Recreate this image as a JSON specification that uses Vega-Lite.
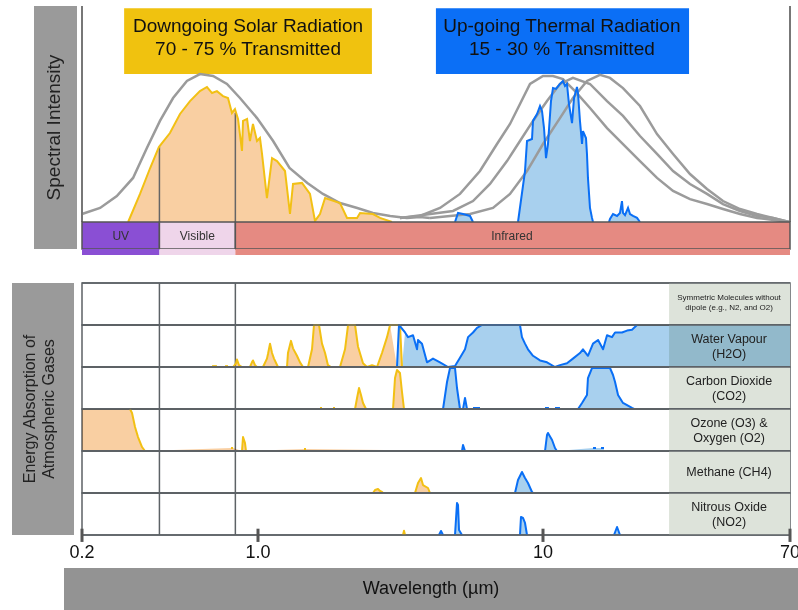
{
"$schema": "https://vega.github.io/schema/vega-lite/v6.json",
"padding": {"left": 12, "top": 5, "right": 0, "bottom": 0},
"background": "white",
"config": {"view": {"stroke": null}, "font": "Liberation Sans"},
"spacing": 0,
"datasets": {
"bb": [
{"q":"sun","x":0.2,"v":0.037},{"q":"sun","x":0.236,"v":0.065},{"q":"sun","x":0.275,"v":0.12},{"q":"sun","x":0.319,"v":0.204},{"q":"sun","x":0.362,"v":0.343},{"q":"sun","x":0.408,"v":0.468},{"q":"sun","x":0.46,"v":0.574},{"q":"sun","x":0.522,"v":0.653},{"q":"sun","x":0.588,"v":0.685},{"q":"sun","x":0.663,"v":0.676},{"q":"sun","x":0.753,"v":0.639},{"q":"sun","x":0.848,"v":0.574},{"q":"sun","x":0.991,"v":0.481},{"q":"sun","x":1.13,"v":0.375},{"q":"sun","x":1.29,"v":0.25},{"q":"sun","x":1.49,"v":0.181},{"q":"sun","x":1.69,"v":0.13},{"q":"sun","x":1.94,"v":0.088},{"q":"sun","x":2.23,"v":0.065},{"q":"sun","x":2.53,"v":0.042},{"q":"sun","x":2.91,"v":0.028},{"q":"sun","x":3.33,"v":0.019},{"q":"sun","x":3.7,"v":0.023},{"q":"sun","x":4.01,"v":0.019},
{"q":"T1","x":3.149,"v":0.019},{"q":"T1","x":3.702,"v":0.028},{"q":"T1","x":4.351,"v":0.065},{"q":"T1","x":5.114,"v":0.13},{"q":"T1","x":6.01,"v":0.236},{"q":"T1","x":6.896,"v":0.361},{"q":"T1","x":7.66,"v":0.454},{"q":"T1","x":8.303,"v":0.546},{"q":"T1","x":9.004,"v":0.639},{"q":"T1","x":10,"v":0.676},{"q":"T1","x":10.82,"v":0.676},{"q":"T1","x":11.7,"v":0.662},{"q":"T1","x":12.87,"v":0.606},{"q":"T1","x":14.48,"v":0.528},{"q":"T1","x":16.56,"v":0.435},{"q":"T1","x":18.78,"v":0.361},{"q":"T1","x":21.47,"v":0.282},{"q":"T1","x":24.55,"v":0.204},{"q":"T1","x":27.86,"v":0.144},{"q":"T1","x":31.84,"v":0.106},{"q":"T1","x":36.4,"v":0.083},{"q":"T1","x":41.29,"v":0.06},{"q":"T1","x":47.21,"v":0.037},{"q":"T1","x":53.97,"v":0.019},{"q":"T1","x":69.5,"v":0},
{"q":"T2","x":3.149,"v":0.019},{"q":"T2","x":4.833,"v":0.051},{"q":"T2","x":5.681,"v":0.097},{"q":"T2","x":6.516,"v":0.176},{"q":"T2","x":7.476,"v":0.282},{"q":"T2","x":8.303,"v":0.375},{"q":"T2","x":9.224,"v":0.468},{"q":"T2","x":10.32,"v":0.56},{"q":"T2","x":11.43,"v":0.639},{"q":"T2","x":12.66,"v":0.667},{"q":"T2","x":14.48,"v":0.639},{"q":"T2","x":16.56,"v":0.56},{"q":"T2","x":18.78,"v":0.491},{"q":"T2","x":21.47,"v":0.398},{"q":"T2","x":24.55,"v":0.315},{"q":"T2","x":27.86,"v":0.236},{"q":"T2","x":31.84,"v":0.176},{"q":"T2","x":36.4,"v":0.13},{"q":"T2","x":41.29,"v":0.083},{"q":"T2","x":47.21,"v":0.051},{"q":"T2","x":53.97,"v":0.028},{"q":"T2","x":61.23,"v":0.019},{"q":"T2","x":69.5,"v":0},
{"q":"T3","x":4.013,"v":0.019},{"q":"T3","x":5.545,"v":0.037},{"q":"T3","x":6.676,"v":0.065},{"q":"T3","x":7.66,"v":0.13},{"q":"T3","x":8.788,"v":0.236},{"q":"T3","x":10,"v":0.361},{"q":"T3","x":11.43,"v":0.481},{"q":"T3","x":12.66,"v":0.574},{"q":"T3","x":14.14,"v":0.653},{"q":"T3","x":15.67,"v":0.681},{"q":"T3","x":16.95,"v":0.667},{"q":"T3","x":18.78,"v":0.62},{"q":"T3","x":21.47,"v":0.537},{"q":"T3","x":24.55,"v":0.407},{"q":"T3","x":27.86,"v":0.315},{"q":"T3","x":31.84,"v":0.222},{"q":"T3","x":36.4,"v":0.153},{"q":"T3","x":41.29,"v":0.097},{"q":"T3","x":47.21,"v":0.06},{"q":"T3","x":53.97,"v":0.037},{"q":"T3","x":61.23,"v":0.019},{"q":"T3","x":69.5,"v":0}
],
"sol": [
{"x":0.305,"v":0},{"x":0.34,"v":0.13},{"x":0.373,"v":0.25},{"x":0.404,"v":0.347},{"x":0.447,"v":0.412},{"x":0.49,"v":0.5},{"x":0.537,"v":0.56},{"x":0.588,"v":0.606},{"x":0.627,"v":0.625},{"x":0.657,"v":0.597},{"x":0.687,"v":0.606},{"x":0.726,"v":0.583},{"x":0.76,"v":0.574},{"x":0.788,"v":0.505},{"x":0.81,"v":0.523},{"x":0.833,"v":0.477},{"x":0.864,"v":0.329},{"x":0.872,"v":0.468},{"x":0.905,"v":0.477},{"x":0.929,"v":0.375},{"x":0.955,"v":0.454},{"x":0.991,"v":0.375},{"x":1.016,"v":0.389},{"x":1.033,"v":0.315},{"x":1.075,"v":0.111},{"x":1.12,"v":0.296},{"x":1.166,"v":0.282},{"x":1.244,"v":0.236},{"x":1.295,"v":0.037},{"x":1.327,"v":0.176},{"x":1.427,"v":0.181},{"x":1.522,"v":0.13},{"x":1.585,"v":0.005},{"x":1.65,"v":0.037},{"x":1.719,"v":0.111},{"x":1.94,"v":0.088},{"x":2.053,"v":0.019},{"x":2.226,"v":0.019},{"x":2.28,"v":0.042},{"x":2.532,"v":0.037},{"x":2.68,"v":0.019},{"x":2.953,"v":0}
],
"th": [
{"q":"a","x":4.912,"v":0},{"q":"a","x":5.033,"v":0.042},{"q":"a","x":5.241,"v":0.037},{"q":"a","x":5.545,"v":0.028},{"q":"a","x":5.681,"v":0},
{"q":"b","x":8.171,"v":0},{"q":"b","x":8.647,"v":0.236},{"q":"b","x":8.788,"v":0.375},{"q":"b","x":9.15,"v":0.384},{"q":"b","x":9.224,"v":0.468},{"q":"b","x":9.528,"v":0.5},{"q":"b","x":9.761,"v":0.537},{"q":"b","x":9.92,"v":0.514},{"q":"b","x":10.08,"v":0.435},{"q":"b","x":10.24,"v":0.296},{"q":"b","x":10.4,"v":0.361},{"q":"b","x":10.65,"v":0.56},{"q":"b","x":10.82,"v":0.62},{"q":"b","x":11.08,"v":0.616},{"q":"b","x":11.43,"v":0.639},{"q":"b","x":11.7,"v":0.653},{"q":"b","x":11.89,"v":0.63},{"q":"b","x":12.08,"v":0.639},{"q":"b","x":12.27,"v":0.546},{"q":"b","x":12.57,"v":0.458},{"q":"b","x":12.77,"v":0.574},{"q":"b","x":13.07,"v":0.625},{"q":"b","x":13.18,"v":0.593},{"q":"b","x":13.38,"v":0.468},{"q":"b","x":13.6,"v":0.361},{"q":"b","x":13.7,"v":0.421},{"q":"b","x":14.03,"v":0.389},{"q":"b","x":14.14,"v":0.315},{"q":"b","x":14.25,"v":0.204},{"q":"b","x":14.48,"v":0.065},{"q":"b","x":14.71,"v":0.019},{"q":"b","x":14.83,"v":0},
{"q":"c","x":16.82,"v":0},{"q":"c","x":16.95,"v":0.014},{"q":"c","x":17.36,"v":0.037},{"q":"c","x":17.92,"v":0.028},{"q":"c","x":18.34,"v":0.042},{"q":"c","x":18.63,"v":0.097},{"q":"c","x":18.78,"v":0.042},{"q":"c","x":19.08,"v":0.032},{"q":"c","x":19.54,"v":0.065},{"q":"c","x":19.85,"v":0.037},{"q":"c","x":20.32,"v":0.028},{"q":"c","x":20.97,"v":0.019},{"q":"c","x":21.47,"v":0}
],
"bands": [
{"b":"UV","x1":0.2,"x2":0.406,"xc":0.285},
{"b":"Visible","x1":0.406,"x2":0.813,"xc":0.5745},
{"b":"Infrared","x1":0.813,"x2":70,"xc":7.78}
],
"rows": [
{"g":"SYM","t":"Symmetric Molecules without\ndipole (e.g., N2, and O2)","n":2},
{"g":"H2O","t":"Water Vapour\n(H2O)","n":2},
{"g":"CO2","t":"Carbon Dioxide\n(CO2)","n":2},
{"g":"O3","t":"Ozone (O3) &\nOxygen (O2)","n":2},
{"g":"CH4","t":"Methane (CH4)","n":1},
{"g":"N2O","t":"Nitrous Oxide\n(NO2)","n":2},
{"g":"N2O","tk":0.2,"lab":"0.2"},{"g":"N2O","tk":1,"lab":"1.0"},{"g":"N2O","tk":10,"lab":"10"},{"g":"N2O","tk":70,"lab":"70"},
{"g":"H2O","s":"s","q":"1","x":0.657,"v":0.02},{"g":"H2O","s":"s","q":"1","x":0.687,"v":0.02},
{"g":"H2O","s":"s","q":"2","x":0.74,"v":0.02},{"g":"H2O","s":"s","q":"2","x":0.76,"v":0.02},
{"g":"H2O","s":"s","q":"3","x":0.796,"v":0},{"g":"H2O","s":"s","q":"3","x":0.818,"v":0.089},{"g":"H2O","s":"s","q":"3","x":0.825,"v":0.178},{"g":"H2O","s":"s","q":"3","x":0.84,"v":0.044},{"g":"H2O","s":"s","q":"3","x":0.864,"v":0},
{"g":"H2O","s":"s","q":"4","x":0.929,"v":0},{"g":"H2O","s":"s","q":"4","x":0.946,"v":0.111},{"g":"H2O","s":"s","q":"4","x":0.955,"v":0.156},{"g":"H2O","s":"s","q":"4","x":0.973,"v":0.044},{"g":"H2O","s":"s","q":"4","x":0.991,"v":0},
{"g":"H2O","s":"s","q":"5","x":1.041,"v":0},{"g":"H2O","s":"s","q":"5","x":1.075,"v":0.2},{"g":"H2O","s":"s","q":"5","x":1.084,"v":0.311},{"g":"H2O","s":"s","q":"5","x":1.102,"v":0.556},{"g":"H2O","s":"s","q":"5","x":1.12,"v":0.333},{"g":"H2O","s":"s","q":"5","x":1.138,"v":0.2},{"g":"H2O","s":"s","q":"5","x":1.175,"v":0},
{"g":"H2O","s":"s","q":"6","x":1.264,"v":0},{"g":"H2O","s":"s","q":"6","x":1.274,"v":0.333},{"g":"H2O","s":"s","q":"6","x":1.305,"v":0.622},{"g":"H2O","s":"s","q":"6","x":1.327,"v":0.444},{"g":"H2O","s":"s","q":"6","x":1.37,"v":0.267},{"g":"H2O","s":"s","q":"6","x":1.404,"v":0.111},{"g":"H2O","s":"s","q":"6","x":1.439,"v":0},
{"g":"H2O","s":"s","q":"7","x":1.498,"v":0},{"g":"H2O","s":"s","q":"7","x":1.547,"v":0.422},{"g":"H2O","s":"s","q":"7","x":1.572,"v":1},{"g":"H2O","s":"s","q":"7","x":1.637,"v":1},{"g":"H2O","s":"s","q":"7","x":1.677,"v":0.556},{"g":"H2O","s":"s","q":"7","x":1.719,"v":0.333},{"g":"H2O","s":"s","q":"7","x":1.76,"v":0.044},{"g":"H2O","s":"s","q":"7","x":1.804,"v":0},
{"g":"H2O","s":"s","q":"8","x":1.94,"v":0},{"g":"H2O","s":"s","q":"8","x":2.02,"v":0.422},{"g":"H2O","s":"s","q":"8","x":2.07,"v":1},{"g":"H2O","s":"s","q":"8","x":2.19,"v":1},{"g":"H2O","s":"s","q":"8","x":2.243,"v":0.489},{"g":"H2O","s":"s","q":"8","x":2.336,"v":0.089},{"g":"H2O","s":"s","q":"8","x":2.413,"v":0},{"g":"H2O","s":"s","q":"8","x":2.512,"v":0.044},{"g":"H2O","s":"s","q":"8","x":2.616,"v":0},{"g":"H2O","s":"s","q":"8","x":2.723,"v":0.333},{"g":"H2O","s":"s","q":"8","x":2.836,"v":0.711},{"g":"H2O","s":"s","q":"8","x":2.906,"v":1},{"g":"H2O","s":"s","q":"8","x":3.149,"v":1},{"g":"H2O","s":"s","q":"8","x":3.201,"v":0},
{"g":"H2O","s":"t","q":"1","x":3.074,"v":0},{"g":"H2O","s":"t","q":"1","x":3.124,"v":1},{"g":"H2O","s":"t","q":"1","x":3.28,"v":0.822},{"g":"H2O","s":"t","q":"1","x":3.36,"v":0.711},{"g":"H2O","s":"t","q":"1","x":3.499,"v":0.756},{"g":"H2O","s":"t","q":"1","x":3.614,"v":0.422},{"g":"H2O","s":"t","q":"1","x":3.643,"v":0.644},{"g":"H2O","s":"t","q":"1","x":3.762,"v":0.556},{"g":"H2O","s":"t","q":"1","x":3.917,"v":0.111},{"g":"H2O","s":"t","q":"1","x":4.112,"v":0.2},{"g":"H2O","s":"t","q":"1","x":4.351,"v":0.111},{"g":"H2O","s":"t","q":"1","x":4.642,"v":0},{"g":"H2O","s":"t","q":"1","x":4.912,"v":0.022},{"g":"H2O","s":"t","q":"1","x":5.114,"v":0.222},{"g":"H2O","s":"t","q":"1","x":5.325,"v":0.422},{"g":"H2O","s":"t","q":"1","x":5.456,"v":0.711},{"g":"H2O","s":"t","q":"1","x":5.681,"v":0.822},{"g":"H2O","s":"t","q":"1","x":5.867,"v":0.933},{"g":"H2O","s":"t","q":"1","x":6.109,"v":1},{"g":"H2O","s":"t","q":"1","x":8.303,"v":1},{"g":"H2O","s":"t","q":"1","x":8.437,"v":0.711},{"g":"H2O","s":"t","q":"1","x":8.647,"v":0.556},{"g":"H2O","s":"t","q":"1","x":8.857,"v":0.422},{"g":"H2O","s":"t","q":"1","x":9.224,"v":0.267},{"g":"H2O","s":"t","q":"1","x":9.761,"v":0.156},{"g":"H2O","s":"t","q":"1","x":10.32,"v":0.111},{"g":"H2O","s":"t","q":"1","x":10.99,"v":0},{"g":"H2O","s":"t","q":"1","x":11.43,"v":0.044},{"g":"H2O","s":"t","q":"1","x":12.08,"v":0.089},{"g":"H2O","s":"t","q":"1","x":12.66,"v":0.2},{"g":"H2O","s":"t","q":"1","x":13.38,"v":0.333},{"g":"H2O","s":"t","q":"1","x":13.7,"v":0.422},{"g":"H2O","s":"t","q":"1","x":14.25,"v":0.267},{"g":"H2O","s":"t","q":"1","x":14.83,"v":0.556},{"g":"H2O","s":"t","q":"1","x":15.43,"v":0.644},{"g":"H2O","s":"t","q":"1","x":16.05,"v":0.422},{"g":"H2O","s":"t","q":"1","x":16.56,"v":0.756},{"g":"H2O","s":"t","q":"1","x":17.22,"v":0.711},{"g":"H2O","s":"t","q":"1","x":17.64,"v":0.822},{"g":"H2O","s":"t","q":"1","x":18.63,"v":0.822},{"g":"H2O","s":"t","q":"1","x":19.39,"v":0.867},{"g":"H2O","s":"t","q":"1","x":20.16,"v":0.889},{"g":"H2O","s":"t","q":"1","x":20.97,"v":1},{"g":"H2O","s":"t","q":"1","x":70,"v":1,"nl":1},
{"g":"CO2","s":"s","q":"1","x":1.65,"v":0.024},{"g":"CO2","s":"s","q":"1","x":1.677,"v":0.024},
{"g":"CO2","s":"s","q":"2","x":1.833,"v":0.024},{"g":"CO2","s":"s","q":"2","x":1.863,"v":0.024},
{"g":"CO2","s":"s","q":"3","x":2.19,"v":0},{"g":"CO2","s":"s","q":"3","x":2.226,"v":0.262},{"g":"CO2","s":"s","q":"3","x":2.262,"v":0.5},{"g":"CO2","s":"s","q":"3","x":2.298,"v":0.333},{"g":"CO2","s":"s","q":"3","x":2.336,"v":0.143},{"g":"CO2","s":"s","q":"3","x":2.393,"v":0},
{"g":"CO2","s":"s","q":"4","x":2.977,"v":0},{"g":"CO2","s":"s","q":"4","x":3.025,"v":0.738},{"g":"CO2","s":"s","q":"4","x":3.074,"v":0.929},{"g":"CO2","s":"s","q":"4","x":3.149,"v":0.857},{"g":"CO2","s":"s","q":"4","x":3.201,"v":0.405},{"g":"CO2","s":"s","q":"4","x":3.253,"v":0},
{"g":"CO2","s":"t","q":"1","x":4.459,"v":0},{"g":"CO2","s":"t","q":"1","x":4.605,"v":0.643},{"g":"CO2","s":"t","q":"1","x":4.718,"v":0.976},{"g":"CO2","s":"t","q":"1","x":4.912,"v":0.976},{"g":"CO2","s":"t","q":"1","x":4.992,"v":0.5},{"g":"CO2","s":"t","q":"1","x":5.114,"v":0},{"g":"CO2","s":"t","q":"1","x":5.241,"v":0},{"g":"CO2","s":"t","q":"1","x":5.325,"v":0.262},{"g":"CO2","s":"t","q":"1","x":5.412,"v":0},
{"g":"CO2","s":"t","q":"2","x":5.681,"v":0.024},{"g":"CO2","s":"t","q":"2","x":6.01,"v":0.024},
{"g":"CO2","s":"t","q":"3","x":10.16,"v":0.024},{"g":"CO2","s":"t","q":"3","x":10.48,"v":0.024},
{"g":"CO2","s":"t","q":"4","x":10.99,"v":0.024},{"g":"CO2","s":"t","q":"4","x":11.43,"v":0.024},
{"g":"CO2","s":"t","q":"5","x":13.18,"v":0},{"g":"CO2","s":"t","q":"5","x":13.6,"v":0.143},{"g":"CO2","s":"t","q":"5","x":14.14,"v":0.333},{"g":"CO2","s":"t","q":"5","x":14.25,"v":0.738},{"g":"CO2","s":"t","q":"5","x":14.71,"v":0.976},{"g":"CO2","s":"t","q":"5","x":16.95,"v":0.976},{"g":"CO2","s":"t","q":"5","x":17.36,"v":0.81},{"g":"CO2","s":"t","q":"5","x":17.64,"v":0.643},{"g":"CO2","s":"t","q":"5","x":18.06,"v":0.333},{"g":"CO2","s":"t","q":"5","x":18.78,"v":0.143},{"g":"CO2","s":"t","q":"5","x":20.16,"v":0.024},{"g":"CO2","s":"t","q":"5","x":20.48,"v":0},
{"g":"O3","s":"s","q":"1","x":0.2,"v":1,"nl":1},{"g":"O3","s":"s","q":"1","x":0.3102,"v":1},{"g":"O3","s":"s","q":"1","x":0.316,"v":0.905},{"g":"O3","s":"s","q":"1","x":0.3248,"v":0.571},{"g":"O3","s":"s","q":"1","x":0.3338,"v":0.333},{"g":"O3","s":"s","q":"1","x":0.3463,"v":0.095},{"g":"O3","s":"s","q":"1","x":0.3557,"v":0},
{"g":"O3","s":"s","q":"2","x":0.781,"v":0.071},{"g":"O3","s":"s","q":"2","x":0.796,"v":0.071},
{"g":"O3","s":"s","q":"3","x":0.864,"v":0},{"g":"O3","s":"s","q":"3","x":0.872,"v":0.333},{"g":"O3","s":"s","q":"3","x":0.888,"v":0.19},{"g":"O3","s":"s","q":"3","x":0.896,"v":0},
{"g":"O3","s":"s","q":"4","x":1.45,"v":0.048},{"g":"O3","s":"s","q":"4","x":1.474,"v":0.048},
{"g":"O3","s":"t","q":"1","x":5.198,"v":0},{"g":"O3","s":"t","q":"1","x":5.241,"v":0.143},{"g":"O3","s":"t","q":"1","x":5.325,"v":0},
{"g":"O3","s":"t","q":"2","x":10.16,"v":0},{"g":"O3","s":"t","q":"2","x":10.32,"v":0.381},{"g":"O3","s":"t","q":"2","x":10.4,"v":0.429},{"g":"O3","s":"t","q":"2","x":10.74,"v":0.262},{"g":"O3","s":"t","q":"2","x":10.99,"v":0.071},{"g":"O3","s":"t","q":"2","x":11.16,"v":0},
{"g":"O3","s":"t","q":"3","x":14.83,"v":0.071},{"g":"O3","s":"t","q":"3","x":15.18,"v":0.071},
{"g":"O3","s":"t","q":"4","x":15.79,"v":0.071},{"g":"O3","s":"t","q":"4","x":16.17,"v":0.071},
{"g":"CH4","s":"s","q":"1","x":2.532,"v":0},{"g":"CH4","s":"s","q":"1","x":2.574,"v":0.071},{"g":"CH4","s":"s","q":"1","x":2.637,"v":0.095},{"g":"CH4","s":"s","q":"1","x":2.68,"v":0.048},{"g":"CH4","s":"s","q":"1","x":2.723,"v":0.024},{"g":"CH4","s":"s","q":"1","x":2.745,"v":0},
{"g":"CH4","s":"s","q":"2","x":3.556,"v":0},{"g":"CH4","s":"s","q":"2","x":3.643,"v":0.238},{"g":"CH4","s":"s","q":"2","x":3.732,"v":0.357},{"g":"CH4","s":"s","q":"2","x":3.793,"v":0.19},{"g":"CH4","s":"s","q":"2","x":3.949,"v":0.119},{"g":"CH4","s":"s","q":"2","x":4.013,"v":0},
{"g":"CH4","s":"t","q":"1","x":7.976,"v":0},{"g":"CH4","s":"t","q":"1","x":8.171,"v":0.31},{"g":"CH4","s":"t","q":"1","x":8.437,"v":0.5},{"g":"CH4","s":"t","q":"1","x":8.647,"v":0.357},{"g":"CH4","s":"t","q":"1","x":8.857,"v":0.238},{"g":"CH4","s":"t","q":"1","x":9.15,"v":0.024},{"g":"CH4","s":"t","q":"1","x":9.224,"v":0},
{"g":"N2O","s":"s","q":"1","x":3.227,"v":0},{"g":"N2O","s":"s","q":"1","x":3.253,"v":0.1},{"g":"N2O","s":"s","q":"1","x":3.28,"v":0},
{"g":"N2O","s":"t","q":"1","x":4.316,"v":0},{"g":"N2O","s":"t","q":"1","x":4.386,"v":0.095},{"g":"N2O","s":"t","q":"1","x":4.459,"v":0},
{"g":"N2O","s":"t","q":"2","x":4.912,"v":0},{"g":"N2O","s":"t","q":"2","x":4.992,"v":0.762},{"g":"N2O","s":"t","q":"2","x":5.033,"v":0.714},{"g":"N2O","s":"t","q":"2","x":5.073,"v":0.119},{"g":"N2O","s":"t","q":"2","x":5.198,"v":0},
{"g":"N2O","s":"t","q":"3","x":8.303,"v":0},{"g":"N2O","s":"t","q":"3","x":8.37,"v":0.429},{"g":"N2O","s":"t","q":"3","x":8.507,"v":0.405},{"g":"N2O","s":"t","q":"3","x":8.647,"v":0.286},{"g":"N2O","s":"t","q":"3","x":8.788,"v":0},
{"g":"N2O","s":"t","q":"4","x":17.5,"v":0},{"g":"N2O","s":"t","q":"4","x":17.92,"v":0.19},{"g":"N2O","s":"t","q":"4","x":18.34,"v":0}
]
},
"vconcat": [
{"hconcat": [
  {"width": 17, "height": 10, "data": {"values": []}, "mark": "point"},
  {"width": 43, "height": 243, "view": {"fill": "#9a9a9a", "stroke": null}, "data": {"values": [{}]},
   "mark": {"type": "text", "text": "Spectral Intensity", "angle": 270, "fontSize": 19, "dy": -2, "color": "#222"}},
  {"vconcat": [
    {"width": 708, "height": 216,
     "layer": [
       {"data": {"values": [{}]}, "mark": {"type": "rect", "color": "#f0c20f"},
        "encoding": {"x": {"datum": 0.294, "type": "quantitative", "scale": {"type": "log", "domain": [0.2, 1, 10, 70], "range": [0, 176, 461, 708], "nice": false}, "axis": null}, "x2": {"datum": 2.51}, "y": {"datum": 0.99, "type": "quantitative", "scale": {"domain": [0, 1], "nice": false}, "axis": null}, "y2": {"datum": 0.685}}},
       {"data": {"values": [{}]}, "mark": {"type": "rect", "color": "#0b6ff6"},
        "encoding": {"x": {"datum": 4.21, "type": "quantitative", "axis": null}, "x2": {"datum": 31.6}, "y": {"datum": 0.99, "type": "quantitative", "axis": null}, "y2": {"datum": 0.685}}},
       {"data": {"values": [{}]}, "mark": {"type": "text", "text": ["Downgoing Solar Radiation", "70 - 75 % Transmitted"], "fontSize": 19, "lineHeight": 23, "dy": -11.5, "color": "#111"},
        "encoding": {"x": {"datum": 0.913, "type": "quantitative", "axis": null}, "y": {"datum": 0.854, "type": "quantitative", "axis": null}}},
       {"data": {"values": [{}]}, "mark": {"type": "text", "text": ["Up-going Thermal Radiation", "15 - 30 % Transmitted"], "fontSize": 19, "lineHeight": 23, "dy": -11.5, "color": "#111"},
        "encoding": {"x": {"datum": 11.6, "type": "quantitative", "axis": null}, "y": {"datum": 0.854, "type": "quantitative", "axis": null}}},
       {"data": {"name": "sol"}, "mark": {"type": "area", "color": "#f9cfa2"},
        "encoding": {"x": {"field": "x", "type": "quantitative", "axis": null}, "y": {"field": "v", "type": "quantitative", "axis": null}}},
       {"data": {"values": [{}]}, "mark": {"type": "rule", "color": "#666", "strokeWidth": 1.5},
        "encoding": {"x": {"datum": 0.406, "type": "quantitative", "axis": null}, "y": {"datum": 0, "type": "quantitative", "axis": null}, "y2": {"datum": 0.347}}},
       {"data": {"values": [{}]}, "mark": {"type": "rule", "color": "#666", "strokeWidth": 1.5},
        "encoding": {"x": {"datum": 0.813, "type": "quantitative", "axis": null}, "y": {"datum": 0, "type": "quantitative", "axis": null}, "y2": {"datum": 0.505}}},
       {"data": {"name": "th"}, "mark": {"type": "area", "color": "#a8d0ee"},
        "encoding": {"x": {"field": "x", "type": "quantitative", "axis": null}, "y": {"field": "v", "type": "quantitative", "axis": null}, "detail": {"field": "q"}}},
       {"data": {"name": "bb"}, "mark": {"type": "line", "color": "#9b9b9b", "strokeWidth": 2.5},
        "encoding": {"x": {"field": "x", "type": "quantitative", "axis": null}, "y": {"field": "v", "type": "quantitative", "axis": null}, "detail": {"field": "q"}}},
       {"data": {"name": "sol"}, "mark": {"type": "line", "color": "#f2c014", "strokeWidth": 2},
        "encoding": {"x": {"field": "x", "type": "quantitative", "axis": null}, "y": {"field": "v", "type": "quantitative", "axis": null}}},
       {"data": {"name": "th"}, "mark": {"type": "line", "color": "#0a6ff5", "strokeWidth": 2},
        "encoding": {"x": {"field": "x", "type": "quantitative", "axis": null}, "y": {"field": "v", "type": "quantitative", "axis": null}, "detail": {"field": "q"}}},
       {"data": {"values": [{}]}, "mark": {"type": "rule", "color": "#777", "strokeWidth": 2},
        "encoding": {"x": {"datum": 0.2, "type": "quantitative", "axis": null}, "y": {"datum": 0, "type": "quantitative", "axis": null}, "y2": {"datum": 1}}},
       {"data": {"values": [{}]}, "mark": {"type": "rule", "color": "#777", "strokeWidth": 2},
        "encoding": {"x": {"datum": 70, "type": "quantitative", "axis": null}, "y": {"datum": 0, "type": "quantitative", "axis": null}, "y2": {"datum": 1}}}
     ]},
    {"width": 708, "height": 27, "data": {"name": "bands"},
     "layer": [
       {"mark": {"type": "rect", "stroke": "#555", "strokeWidth": 1.5},
        "encoding": {"x": {"field": "x1", "type": "quantitative", "scale": {"type": "log", "domain": [0.2, 1, 10, 70], "range": [0, 176, 461, 708], "nice": false}, "axis": null}, "x2": {"field": "x2"},
          "color": {"field": "b", "type": "nominal", "scale": {"domain": ["UV", "Visible", "Infrared"], "range": ["#8a4fd4", "#efd5ea", "#e58a82"]}, "legend": null}}},
       {"mark": {"type": "text", "fontSize": 12, "color": "#333"},
        "encoding": {"x": {"field": "xc", "type": "quantitative", "axis": null}, "text": {"field": "b"}}}
     ]},
    {"width": 708, "height": 6, "data": {"name": "bands"}, "mark": {"type": "rect"},
     "encoding": {"x": {"field": "x1", "type": "quantitative", "scale": {"type": "log", "domain": [0.2, 1, 10, 70], "range": [0, 176, 461, 708], "nice": false}, "axis": null}, "x2": {"field": "x2"},
       "color": {"field": "b", "type": "nominal", "scale": {"domain": ["UV", "Visible", "Infrared"], "range": ["#8a4fd4", "#efd5ea", "#e58a82"]}, "legend": null}}}
  ], "spacing": 0, "bounds": "flush"}
 ], "spacing": 5, "bounds": "flush"},
{"width": 10, "height": 26, "data": {"values": []}, "mark": "point"},
{"hconcat": [
  {"width": 62, "height": 252, "view": {"fill": "#9a9a9a", "stroke": null}, "data": {"values": [{}]},
   "mark": {"type": "text", "text": ["Energy Absorption of", "Atmospheric Gases"], "angle": 270, "fontSize": 16, "lineHeight": 19, "dy": -13.5, "color": "#222"}},
  {"data": {"name": "rows"},
   "facet": {"row": {"field": "g", "type": "nominal", "sort": ["SYM", "H2O", "CO2", "O3", "CH4", "N2O"], "header": {"labels": false, "title": null}, "title": null}},
   "spacing": {"row": 0},
   "bounds": "flush",
   "spec": {
     "width": 708, "height": 42,
     "view": {"stroke": "#5d6266", "strokeWidth": 1.5},
     "layer": [
       {"transform": [{"filter": "datum.t"}], "mark": {"type": "rect", "color": "#dde3da"},
        "encoding": {"x": {"datum": 27, "type": "quantitative", "scale": {"type": "log", "domain": [0.2, 1, 10, 70], "range": [0, 176, 461, 708], "nice": false}, "axis": null}, "x2": {"datum": 70}}},
       {"transform": [{"filter": "datum.t"}], "mark": {"type": "rule", "color": "#5d6266", "strokeWidth": 1.5},
        "encoding": {"x": {"datum": 0.406, "type": "quantitative", "axis": null}}},
       {"transform": [{"filter": "datum.t"}], "mark": {"type": "rule", "color": "#5d6266", "strokeWidth": 1.5},
        "encoding": {"x": {"datum": 0.813, "type": "quantitative", "axis": null}}},
       {"transform": [{"filter": "datum.s"}], "mark": {"type": "area", "blend": "multiply"},
        "encoding": {
          "x": {"field": "x", "type": "quantitative", "axis": null},
          "y": {"field": "v", "type": "quantitative", "scale": {"domain": [0, 1], "nice": false}, "axis": null},
          "fill": {"field": "s", "type": "nominal", "scale": {"domain": ["s", "t"], "range": ["#f9cfa2", "#a8d0ee"]}, "legend": null},
          "detail": {"field": "q"}}},
       {"transform": [{"filter": "datum.s && !datum.nl"}], "mark": {"type": "line", "strokeWidth": 2, "strokeJoin": "round"},
        "encoding": {
          "x": {"field": "x", "type": "quantitative", "axis": null},
          "y": {"field": "v", "type": "quantitative", "axis": null},
          "stroke": {"field": "s", "type": "nominal", "scale": {"domain": ["s", "t"], "range": ["#f2c014", "#0a6ff5"]}, "legend": null},
          "detail": {"field": "q"}}},
       {"transform": [{"filter": "datum.t"}], "mark": {"type": "rule", "color": "#5d6266", "strokeWidth": 1.5},
        "encoding": {"y": {"datum": 1, "type": "quantitative", "axis": null}}},
       {"transform": [{"filter": "datum.t"}], "mark": {"type": "rule", "color": "#5d6266", "strokeWidth": 1.5},
        "encoding": {"y": {"datum": 0, "type": "quantitative", "axis": null}}},
       {"transform": [{"filter": "datum.tk"}], "mark": {"type": "rule", "color": "#555", "strokeWidth": 3},
        "encoding": {"x": {"field": "tk", "type": "quantitative", "axis": null}, "y": {"datum": -0.165, "type": "quantitative", "axis": null}, "y2": {"datum": 0.15}}},
       {"transform": [{"filter": "datum.tk"}], "mark": {"type": "text", "fontSize": 18, "color": "#111", "baseline": "middle"},
        "encoding": {"x": {"field": "tk", "type": "quantitative", "axis": null}, "y": {"datum": -0.43, "type": "quantitative", "axis": null}, "text": {"field": "lab"}}},
       {"transform": [{"filter": "datum.n == 2 && datum.g != 'SYM'"}], "mark": {"type": "text", "fontSize": 12.5, "lineHeight": 15, "dy": -7.5, "color": "#222", "lineBreak": "\n"},
        "encoding": {"x": {"datum": 43.3, "type": "quantitative", "axis": null}, "text": {"field": "t"}}},
       {"transform": [{"filter": "datum.n == 1"}], "mark": {"type": "text", "fontSize": 12.5, "color": "#222"},
        "encoding": {"x": {"datum": 43.3, "type": "quantitative", "axis": null}, "text": {"field": "t"}}},
       {"transform": [{"filter": "datum.g == 'SYM' && datum.t"}], "mark": {"type": "text", "fontSize": 8, "lineHeight": 10, "dy": -6, "color": "#222", "lineBreak": "\n"},
        "encoding": {"x": {"datum": 43.3, "type": "quantitative", "axis": null}, "text": {"field": "t"}}}
     ]}}
 ], "spacing": 8, "bounds": "flush"},
{"width": 10, "height": 5, "data": {"values": []}, "mark": "point"},
{"hconcat": [
  {"width": 52, "height": 10, "data": {"values": []}, "mark": "point"},
  {"width": 734, "height": 42, "view": {"fill": "#939393", "stroke": null}, "data": {"values": [{}]},
   "mark": {"type": "text", "text": "Wavelength (µm)", "fontSize": 18, "color": "#111"}}
 ], "spacing": 0, "bounds": "flush"}
]
}
